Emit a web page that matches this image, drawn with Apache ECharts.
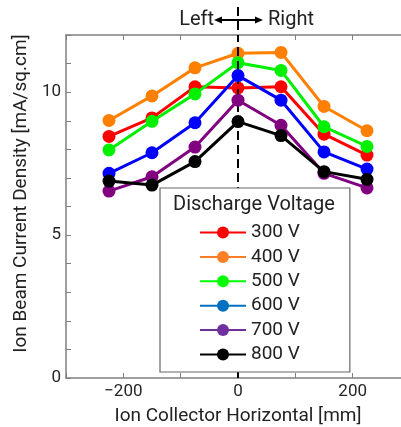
<!DOCTYPE html>
<html>
<head>
<meta charset="utf-8">
<script src="https://cdn.jsdelivr.net/npm/echarts@6/dist/echarts.min.js"></script>
<style>html,body{margin:0;padding:0;background:#fff;}#c{width:401px;height:427px;}</style>
</head>
<body>
<div id="c"></div>
<script>
const positions = [-225, -150, -75, 0, 75, 150, 225];
const seriesNames = ['300 V', '400 V', '500 V', '600 V', '700 V', '800 V'];
const v300 = [8.45, 9.10, 10.19, 10.15, 10.19, 8.53, 7.80];
const v400 = [9.01, 9.87, 10.85, 11.36, 11.39, 9.50, 8.65];
const v500 = [7.98, 8.98, 9.94, 11.03, 10.76, 8.79, 8.10];
const v600 = [7.16, 7.88, 8.93, 10.58, 9.72, 7.91, 7.31];
const v700 = [6.54, 7.04, 8.08, 9.72, 8.84, 7.16, 6.65];
const v800 = [6.89, 6.75, 7.57, 8.97, 8.48, 7.22, 6.95];
const allValues = [v300, v400, v500, v600, v700, v800];
const xTickLabels = [-200, 0, 200];
const yTickLabels = [0, 5, 10];

const lineColors = ['#ff0000', '#ff8000', '#00f000', '#0000ff', '#800080', '#000000'];
const legendColors = ['#ff0000', '#ff7f27', '#00ff00', '#0070c0', '#7030a0', '#000000'];
const FONT = 'Roboto';

const chart = echarts.init(document.getElementById('c'), null, {renderer: 'canvas'});

const series = seriesNames.map((n, i) => ({
  name: n,
  type: 'line',
  data: positions.map((x, j) => [x, allValues[i][j]]),
  symbol: 'circle',
  symbolSize: 13,
  lineStyle: {width: 3, color: lineColors[i]},
  itemStyle: {color: lineColors[i]},
  emphasis: {disabled: true},
  animation: false,
  z: 2 + i
}));
// dashed divider at x = 0, inside the plot (kept below the legend)
series[series.length - 1].markLine = {
  silent: true, symbol: 'none', animation: false,
  label: {show: false},
  lineStyle: {color: '#000', width: 2, type: [9, 5]},
  emphasis: {disabled: true},
  data: [{xAxis: 0}]
};

const axisLineStyle = {color: '#808080', width: 1.5};

chart.setOption({
  animation: false,
  textStyle: {fontFamily: FONT},
  grid: {left: 66, top: 35, width: 344, bottom: 49, containLabel: false, outerBoundsMode: 'none'},
  xAxis: [{
    type: 'value', min: -300, max: 300, interval: 100,
    name: 'Ion Collector Horizontal [mm]', nameLocation: 'middle', nameGap: 29,
    nameTextStyle: {fontSize: 19, color: '#222', fontFamily: FONT},
    axisLine: {show: true, onZero: false, lineStyle: axisLineStyle},
    axisTick: {show: true, inside: true, length: 5, lineStyle: {color: '#808080', width: 1}},
    splitLine: {show: false},
    axisLabel: {fontSize: 17, color: '#262626', fontFamily: FONT, margin: 5,
      formatter: v => xTickLabels.indexOf(v) >= 0 ? (v < 0 ? '\u2212' + Math.abs(v) : String(v)) : ''}
  }, {
    type: 'value', min: -300, max: 300, interval: 100, position: 'top',
    axisLine: {show: true, onZero: false, lineStyle: axisLineStyle},
    axisTick: {show: true, inside: true, length: 5, lineStyle: {color: '#808080', width: 1}},
    axisLabel: {show: false}, splitLine: {show: false}
  }],
  yAxis: [{
    type: 'value', min: 0, max: 12, interval: 1,
    name: 'Ion Beam Current Density [mA/sq.cm]', nameLocation: 'middle', nameGap: 26,
    nameTextStyle: {fontSize: 19, color: '#222', fontFamily: FONT, padding: [0, 0, 0, 26]},
    axisLine: {show: true, onZero: false, lineStyle: axisLineStyle},
    axisTick: {show: true, inside: true, length: 5, lineStyle: {color: '#808080', width: 1}},
    splitLine: {show: false},
    axisLabel: {fontSize: 17, color: '#262626', fontFamily: FONT, margin: 5,
      formatter: v => yTickLabels.indexOf(v) >= 0 ? String(v) : ''}
  }, {
    type: 'value', min: 0, max: 12, interval: 1, position: 'right',
    axisLine: {show: true, onZero: false, lineStyle: axisLineStyle},
    axisTick: {show: true, inside: true, length: 5},
    axisLabel: {show: false}, splitLine: {show: false}
  }],
  legend: {
    orient: 'vertical', left: 160, top: 188,
    padding: [35, 50, 8, 39],
    backgroundColor: '#fff', borderColor: '#666', borderWidth: 1.2, borderRadius: 0,
    itemWidth: 46, itemHeight: 15, itemGap: 5.4,
    textStyle: {fontSize: 19, color: '#222', fontFamily: FONT, lineHeight: 19},
    selectedMode: false,
    z: 100,
    data: seriesNames.map((n, i) => ({
      name: n,
      itemStyle: {color: legendColors[i]},
      lineStyle: {color: legendColors[i], width: 2}
    }))
  },
  series: series
});

function drawOverlay() {
  const x0 = chart.convertToPixel({xAxisIndex: 0}, 0);
  const yTop = chart.convertToPixel({yAxisIndex: 0}, 12);
  const ty = 20;
  chart.setOption({
    graphic: [
      {type: 'line', z: 10, silent: true,
        shape: {x1: x0, y1: 7, x2: x0, y2: yTop},
        style: {stroke: '#000', lineWidth: 2, lineDash: [9, 5]}},
      {type: 'text', z: 10, x: x0 - 24, y: ty,
        style: {text: 'Left', fontSize: 20, fontFamily: FONT, fill: '#222', align: 'right', verticalAlign: 'middle'}},
      {type: 'text', z: 10, x: x0 + 30, y: ty,
        style: {text: 'Right', fontSize: 20, fontFamily: FONT, fill: '#222', align: 'left', verticalAlign: 'middle'}},
      {type: 'line', z: 10, shape: {x1: x0 - 19, y1: ty, x2: x0 + 20, y2: ty},
        style: {stroke: '#000', lineWidth: 2}},
      {type: 'polygon', z: 10, shape: {points: [[x0 - 24, ty], [x0 - 16, ty - 3.5], [x0 - 16, ty + 3.5]]},
        style: {fill: '#000'}},
      {type: 'polygon', z: 10, shape: {points: [[x0 + 25, ty], [x0 + 17, ty - 3.5], [x0 + 17, ty + 3.5]]},
        style: {fill: '#000'}},
      {type: 'text', z: 200, x: 254, y: 205,
        style: {text: 'Discharge Voltage', fontSize: 20, fontFamily: FONT, fill: '#222', align: 'center', verticalAlign: 'middle'}}
    ]
  });
}
drawOverlay();
</script>
</body>
</html>
